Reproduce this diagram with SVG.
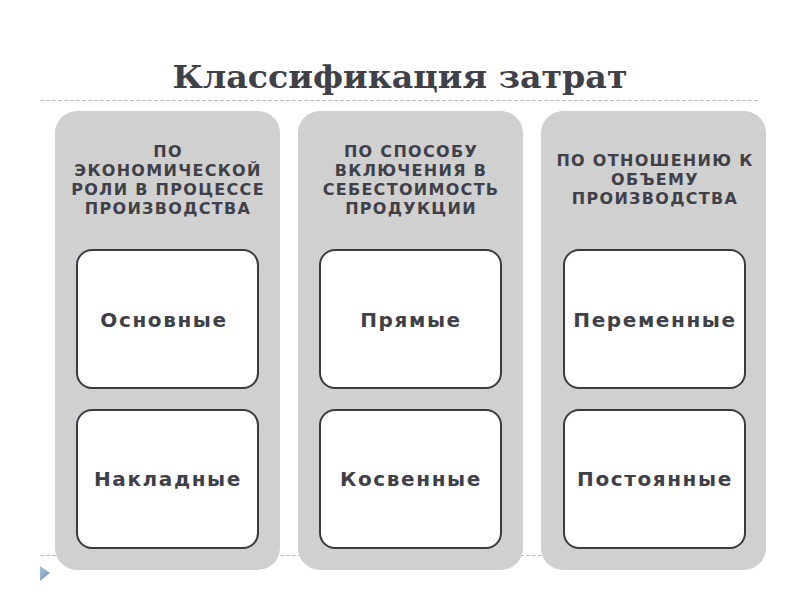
<svg xmlns="http://www.w3.org/2000/svg" width="800" height="600" viewBox="0 0 800 600">
<defs>
<style>
.title{font-family:"DejaVu Serif","Liberation Serif",serif;font-weight:bold;font-size:32px;fill:#404048;text-anchor:middle}
.hdr{font-family:"DejaVu Sans","Liberation Sans",sans-serif;font-weight:bold;font-size:16px;letter-spacing:1.3px;fill:#404048;text-anchor:middle}
.lbl{font-family:"DejaVu Sans","Liberation Sans",sans-serif;font-weight:bold;font-size:20px;letter-spacing:1.6px;fill:#404048;text-anchor:middle}
.panel{fill:#d0d0d0}
.box{fill:#ffffff;stroke:#3a3a40;stroke-width:2}
.dash{stroke:#b8b8b8;stroke-width:1;stroke-dasharray:4 2;fill:none}
</style>
<linearGradient id="tri" x1="0" y1="0" x2="1" y2="1">
<stop offset="0" stop-color="#a8c4e0"/>
<stop offset="1" stop-color="#6f8fb0"/>
</linearGradient>
</defs>
<rect width="800" height="600" fill="#ffffff"/>
<text class="title" x="400" y="88" textLength="455" lengthAdjust="spacingAndGlyphs">Классификация затрат</text>
<line class="dash" x1="40" y1="100.5" x2="760" y2="100.5"/>
<line class="dash" x1="40" y1="555.5" x2="760" y2="555.5"/>
<polygon points="40,566 50,573 40,581" fill="url(#tri)"/>
<g id="col1">
<rect class="panel" x="55" y="111" width="225" height="459" rx="22"/>
<text class="hdr" x="168" y="157">ПО</text>
<text class="hdr" x="168" y="176">ЭКОНОМИЧЕСКОЙ</text>
<text class="hdr" x="168" y="195">РОЛИ В ПРОЦЕССЕ</text>
<text class="hdr" x="168" y="214">ПРОИЗВОДСТВА</text>
</g>
<g id="col2">
<rect class="panel" x="298" y="111" width="225" height="459" rx="22"/>
<text class="hdr" x="411" y="157">ПО СПОСОБУ</text>
<text class="hdr" x="411" y="176">ВКЛЮЧЕНИЯ В</text>
<text class="hdr" x="411" y="195">СЕБЕСТОИМОСТЬ</text>
<text class="hdr" x="411" y="214">ПРОДУКЦИИ</text>
</g>
<g id="col3">
<rect class="panel" x="541" y="111" width="225" height="459" rx="22"/>
<text class="hdr" x="655" y="166">ПО ОТНОШЕНИЮ К</text>
<text class="hdr" x="655" y="185">ОБЪЕМУ</text>
<text class="hdr" x="655" y="204">ПРОИЗВОДСТВА</text>
</g>
<g id="n1a"><rect class="box" x="77" y="250" width="181" height="138" rx="15"/><text class="lbl" x="164" y="327">Основные</text></g>
<g id="n1b"><rect class="box" x="77" y="410" width="181" height="138" rx="15"/><text class="lbl" x="168" y="486">Накладные</text></g>
<g id="n2a"><rect class="box" x="320" y="250" width="181" height="138" rx="15"/><text class="lbl" x="411" y="327">Прямые</text></g>
<g id="n2b"><rect class="box" x="320" y="410" width="181" height="138" rx="15"/><text class="lbl" x="411" y="486">Косвенные</text></g>
<g id="n3a"><rect class="box" x="564" y="250" width="181" height="138" rx="15"/><text class="lbl" x="655" y="327">Переменные</text></g>
<g id="n3b"><rect class="box" x="564" y="410" width="181" height="138" rx="15"/><text class="lbl" x="655" y="486">Постоянные</text></g>
<g id="connectors"></g>
</svg>
